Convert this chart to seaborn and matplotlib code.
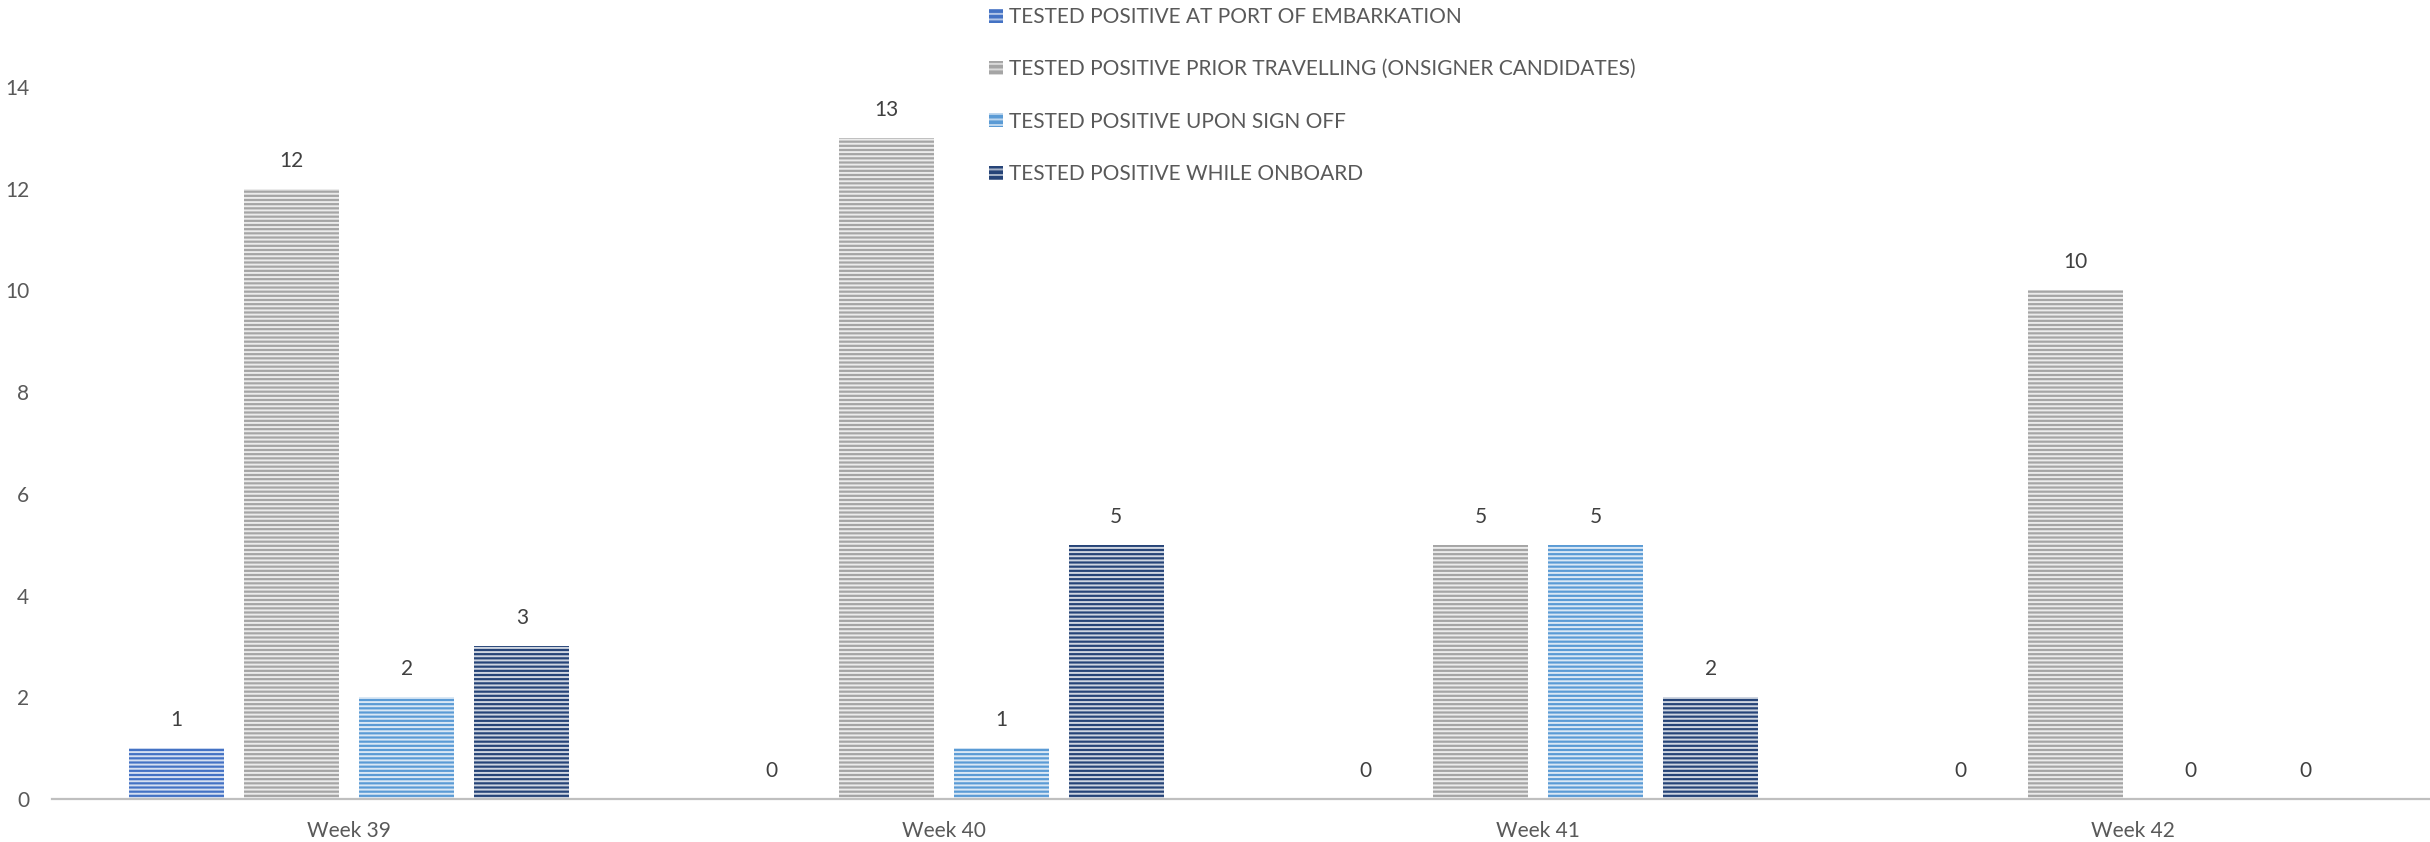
import matplotlib
matplotlib.use("Agg")
import matplotlib.pyplot as plt
from matplotlib.patches import Patch
import numpy as np
import pandas as pd
import seaborn as sns

weeks = ["Week 39", "Week 40", "Week 41", "Week 42"]
series_names = [
    "TESTED POSITIVE AT PORT OF EMBARKATION",
    "TESTED POSITIVE PRIOR TRAVELLING (ONSIGNER CANDIDATES)",
    "TESTED POSITIVE UPON SIGN OFF",
    "TESTED POSITIVE WHILE ONBOARD",
]
port_embarkation = [1, 0, 0, 0]
prior_travelling = [12, 13, 5, 10]
upon_sign_off = [2, 1, 5, 0]
while_onboard = [3, 5, 2, 0]
colors = ["#4472C4", "#A5A5A5", "#5B9BD5", "#264478"]
y_ticks = [0, 2, 4, 6, 8, 10, 12, 14]

sns.set_style("white")
plt.rcParams["font.family"] = ["Lato", "DejaVu Sans"]
plt.rcParams["hatch.linewidth"] = 1.4

all_values = [port_embarkation, prior_travelling, upon_sign_off, while_onboard]
rows = []
for name, vals in zip(series_names, all_values):
    for w, v in zip(weeks, vals):
        rows.append({"week": w, "series": name, "value": v})
df = pd.DataFrame(rows)

W, H = 2430, 842
fig = plt.figure(figsize=(W / 100, H / 100), dpi=100)
ax = fig.add_axes([52 / W, 1 - 799 / H, 1 - 52 / W, (799 - 87) / H])

sns.barplot(data=df, x="week", y="value", hue="series", hue_order=series_names,
            order=weeks, palette=colors, saturation=1, width=0.774, gap=0.173,
            errorbar=None, legend=False, ax=ax)

hatch_col = (1, 1, 1, 0.78)
for cont in ax.containers:
    for p in cont.patches:
        p.set_edgecolor(hatch_col)
        p.set_linewidth(0)
        p.set_hatch("----")
    ax.bar_label(cont, labels=[f"{int(v)}" for v in cont.datavalues], padding=13,
                 fontsize=15, color="#404040")

ax.set_xlim(-0.5, 3.5)
ax.set_ylim(0, 14)
ax.set_yticks(y_ticks)
ax.set_yticklabels([str(t) for t in y_ticks])
ax.set_xlabel("")
ax.set_ylabel("")
for s in ["left", "right", "top"]:
    ax.spines[s].set_visible(False)
ax.spines["bottom"].set_color("#BFBFBF")
ax.spines["bottom"].set_linewidth(1.6)
ax.tick_params(axis="y", length=0, pad=16.5, labelsize=15, labelcolor="#595959")
ax.tick_params(axis="x", length=0, pad=16, labelsize=15, labelcolor="#595959")

handles = [Patch(facecolor=c, edgecolor=(1, 1, 1, 0.6), hatch="---", linewidth=0) for c in colors]
fig.legend(handles, series_names, loc="upper left", bbox_to_anchor=(979 / W, 1.004),
           frameon=False, fontsize=15, labelcolor="#595959", borderpad=0,
           handlelength=0.65, handleheight=0.65, handletextpad=0.3, labelspacing=1.55)

fig.savefig("out.png", dpi=100)
